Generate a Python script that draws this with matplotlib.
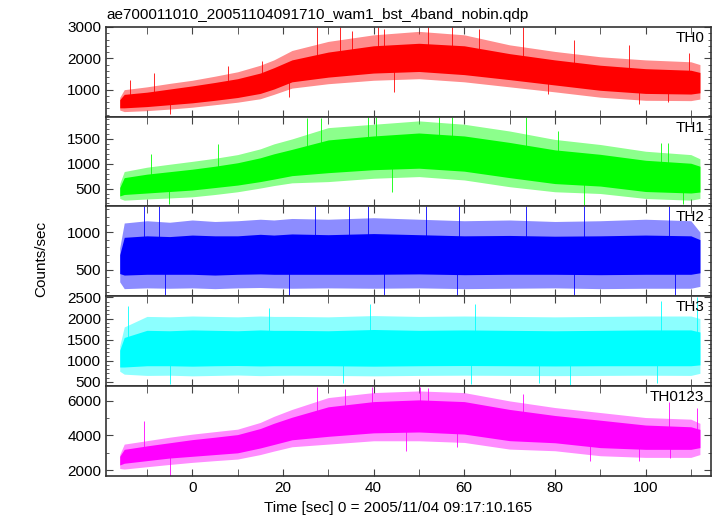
import numpy as np
import matplotlib
matplotlib.use('Agg')
import matplotlib.pyplot as plt
from matplotlib.ticker import MultipleLocator

matplotlib.rcParams.update({'font.size': 11, 'font.family': ['Liberation Sans', 'DejaVu Sans']})

# time grid of the envelope readings (sec)
t = [-16, -15, -10, -5, 0, 5, 10, 15, 18, 22, 30, 40, 50, 60, 70, 80, 90, 100, 110, 112]

# TH0: outer envelope and solid core of the light curve
th0_lo = [350, 300, 330, 380, 440, 520, 600, 710, 850, 1050, 1190, 1300, 1350, 1250, 1090, 930, 760, 660, 650, 700]
th0_hi = [750, 1000, 1090, 1200, 1300, 1430, 1570, 1780, 1950, 2250, 2540, 2750, 2860, 2750, 2430, 2220, 2050, 1950, 1890, 1800]
th0_clo = [420, 420, 460, 520, 580, 660, 750, 880, 1020, 1250, 1400, 1530, 1580, 1480, 1320, 1150, 980, 880, 860, 900]
th0_chi = [680, 850, 920, 1020, 1120, 1230, 1350, 1530, 1700, 1950, 2200, 2400, 2480, 2400, 2150, 1950, 1780, 1670, 1620, 1550]
th0_spk_t = [-13.7, -8.5, -4.8, 7.9, 15.3, 21.4, 27.5, 32.7, 35.3, 41, 42.3, 44.5, 52, 57.2, 63.3, 72.9, 78.5, 84.2, 96.4, 98.6, 105, 109.5]
th0_spk_v = [1300, 1516, 226, 1750, 1914, 763, 3000, 3000, 2860, 3000, 2950, 925, 3000, 3000, 2920, 3000, 850, 2590, 2430, 548, 600, 2160]

# TH1
th1_lo = [300, 265, 290, 310, 333, 380, 435, 510, 560, 615, 640, 707, 741, 673, 537, 435, 400, 300, 265, 300]
th1_hi = [600, 843, 930, 990, 1048, 1110, 1184, 1300, 1400, 1500, 1728, 1796, 1864, 1796, 1660, 1490, 1388, 1252, 1184, 1100]
th1_clo = [350, 380, 410, 440, 470, 520, 570, 640, 690, 760, 820, 880, 910, 850, 720, 600, 550, 440, 410, 430]
th1_chi = [520, 720, 790, 840, 890, 950, 1020, 1120, 1200, 1290, 1480, 1560, 1620, 1560, 1430, 1280, 1190, 1070, 1010, 950]
th1_spk_t = [-9.2, -5.2, 5.7, 25.3, 28.4, 38.8, 40.6, 44, 54.5, 57.2, 73.7, 80.7, 86.4, 103.4, 105, 108.2]
th1_spk_v = [1197, 197, 1388, 1918, 1930, 1950, 1950, 435, 1950, 1950, 1950, 1660, 163, 1422, 1410, 197]

# TH2
th2_lo = [340, 250, 260, 255, 260, 250, 260, 265, 260, 255, 260, 255, 260, 250, 255, 260, 250, 255, 255, 280]
th2_hi = [790, 1120, 1150, 1130, 1160, 1140, 1150, 1170, 1160, 1180, 1170, 1190, 1170, 1150, 1160, 1140, 1150, 1170, 1150, 1000]
th2_clo = [450, 430, 440, 440, 440, 430, 440, 445, 440, 440, 440, 440, 445, 435, 440, 440, 435, 440, 440, 460]
th2_chi = [700, 930, 950, 940, 960, 950, 950, 970, 960, 975, 965, 980, 965, 950, 955, 945, 950, 960, 950, 900]
th2_spk_t = [-10.6, -7.4, -6.1, 21.4, 27, 34.5, 38.8, 42.3, 51.5, 58.5, 58.9, 73.7, 84.2, 86.4, 105.2, 106.5]
th2_spk_v = [1340, 1340, 150, 150, 1340, 1340, 1340, 150, 1340, 150, 1340, 1340, 150, 1340, 1340, 150]

# TH3
th3_lo = [750, 680, 650, 655, 640, 650, 660, 645, 650, 655, 650, 640, 650, 655, 650, 645, 650, 655, 650, 700]
th3_hi = [1350, 1800, 2050, 2040, 2060, 2050, 2040, 2060, 2050, 2050, 2040, 2070, 2050, 2060, 2050, 2040, 2050, 2060, 2060, 2000]
th3_clo = [850, 850, 880, 880, 870, 880, 885, 875, 880, 880, 880, 870, 880, 885, 880, 875, 880, 880, 880, 900]
th3_chi = [1250, 1550, 1720, 1710, 1730, 1720, 1710, 1730, 1720, 1720, 1710, 1740, 1720, 1730, 1720, 1710, 1720, 1730, 1730, 1680]
th3_spk_t = [-14.2, -4.8, 17, 33.2, 39.3, 61.5, 62.4, 76.4, 83.3, 102.5, 103.4, 111.3]
th3_spk_v = [2300, 443, 2260, 480, 2340, 443, 2340, 480, 420, 460, 2420, 2500]

# TH0123
th4_lo = [2100, 2067, 2200, 2330, 2450, 2550, 2641, 2900, 3100, 3350, 3502, 3694, 3694, 3598, 3215, 3120, 2833, 2737, 2737, 2900]
th4_hi = [2900, 3502, 3700, 3900, 4076, 4220, 4363, 4750, 5100, 5500, 6182, 6469, 6564, 6469, 5990, 5608, 5321, 5033, 4938, 4700]
th4_clo = [2300, 2400, 2550, 2700, 2800, 2900, 3000, 3280, 3480, 3750, 3950, 4150, 4200, 4080, 3700, 3580, 3300, 3200, 3200, 3300]
th4_chi = [2800, 3200, 3400, 3580, 3760, 3900, 4050, 4400, 4700, 5050, 5650, 5950, 6050, 5950, 5500, 5150, 4880, 4600, 4500, 4350]
th4_spk_t = [-10.7, -4.8, 27.5, 33.6, 39.7, 47.1, 50.2, 52, 58.5, 72.9, 87.7, 98.6, 105.2, 105.5, 111.3]
th4_spk_v = [4842, 1684, 6800, 6700, 6800, 3120, 6800, 6750, 3310, 6373, 2545, 2545, 5900, 2700, 5600]

panels = [
    ('TH0', 'red', th0_lo, th0_hi, th0_clo, th0_chi, th0_spk_t, th0_spk_v, (140, 3005), 1000, 200),
    ('TH1', '#00ff00', th1_lo, th1_hi, th1_clo, th1_chi, th1_spk_t, th1_spk_v, (140, 1950), 500, 100),
    ('TH2', 'blue', th2_lo, th2_hi, th2_clo, th2_chi, th2_spk_t, th2_spk_v, (150, 1340), 500, 100),
    ('TH3', 'cyan', th3_lo, th3_hi, th3_clo, th3_chi, th3_spk_t, th3_spk_v, (400, 2530), 500, 100),
    ('TH0123', 'magenta', th4_lo, th4_hi, th4_clo, th4_chi, th4_spk_t, th4_spk_v, (1680, 6850), 2000, 1000),
]

fig, axes = plt.subplots(5, 1, sharex=True, figsize=(7.17, 5.16), dpi=100)
fig.subplots_adjust(left=0.148, right=0.992, top=0.948, bottom=0.078, hspace=0)

for ax, (name, col, lo, hi, clo, chi, st, sv, ylim, major, minor) in zip(axes, panels):
    mid = (np.array(clo) + np.array(chi)) / 2
    base = np.interp(st, t, mid)
    ax.vlines(st, base, sv, color=col, lw=0.7, alpha=0.85, zorder=1)
    ax.fill_between(t, lo, hi, color=col, alpha=0.45, lw=0, zorder=2)
    ax.fill_between(t, clo, chi, color=col, lw=0, zorder=3)
    ax.set_ylim(ylim)
    ax.yaxis.set_major_locator(MultipleLocator(major))
    ax.yaxis.set_minor_locator(MultipleLocator(minor))
    ax.text(0.988, 0.955, name, transform=ax.transAxes, ha='right', va='top', fontsize=11, zorder=5)
    ax.tick_params(which='both', direction='in', top=True, right=True, color='#444444')
    ax.tick_params(which='major', length=5, labelsize=11)
    ax.tick_params(which='minor', length=2.5)
    ax.tick_params(axis='x', which='minor', length=5)
    for s in ax.spines.values():
        s.set_linewidth(1.2)
        s.set_color('#333333')

axes[-1].set_xlim(-19, 114.5)
axes[-1].xaxis.set_major_locator(MultipleLocator(20))
axes[-1].xaxis.set_minor_locator(MultipleLocator(10))

fig.text(0.149, 0.971, 'ae700011010_20051104091710_wam1_bst_4band_nobin.qdp', ha='left', va='center', fontsize=11)
fig.text(0.057, 0.498, 'Counts/sec', rotation=90, ha='center', va='center', fontsize=11)
fig.text(0.555, 0.016, 'Time [sec] 0 = 2005/11/04 09:17:10.165', ha='center', va='center', fontsize=11)

fig.savefig('out.png', dpi=100)
